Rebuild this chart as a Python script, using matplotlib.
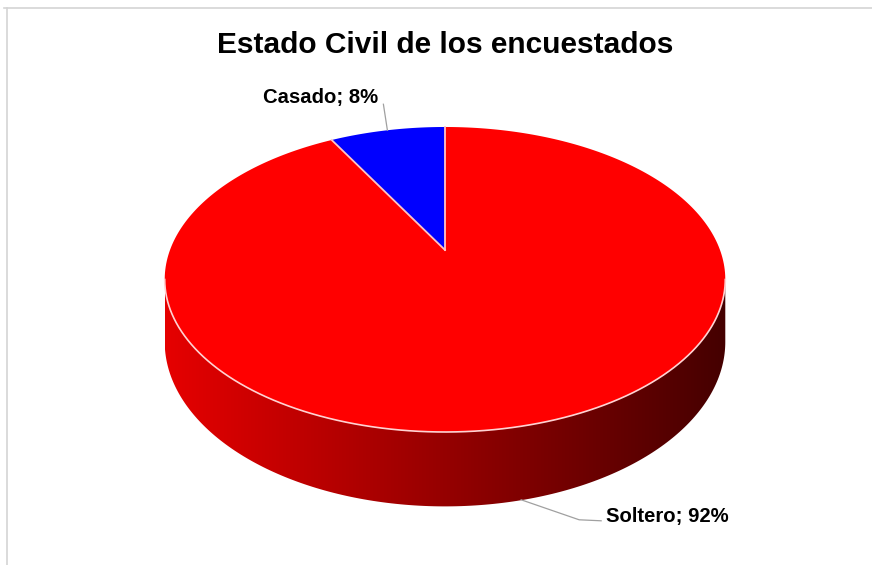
import numpy as np
import matplotlib
matplotlib.use('Agg')
import matplotlib.pyplot as plt
from matplotlib.patches import Polygon
from matplotlib.colors import to_rgb

# Datos del grafico
categorias = ['Soltero', 'Casado']
porcentajes = [92, 8]
colores = ['#ff0000', '#0000ff']

titulo = 'Estado Civil de los encuestados'
fuente = ['Liberation Sans', 'DejaVu Sans']

# Geometria del pastel 3D (en pixeles de la figura)
CX, CY = 445, 250       # centro del disco proyectado
A, B = 275, 146.8       # semiejes
K = 0.1934              # factor de perspectiva
GROSOR = 60             # altura del cilindro


def proyectar(theta, baja=0.0):
    x = np.cos(theta)
    z = np.sin(theta)
    w = 1 + K * z
    return CX + A * x / w, CY - B * z / w + baja / w


fig = plt.figure(figsize=(8.72, 5.65), dpi=100)
ax = fig.add_axes([0, 0, 1, 1])
ax.set_xlim(0, 872)
ax.set_ylim(565, 0)
ax.axis('off')

# Marco del area del grafico
ax.plot([4, 872], [8, 8], color='#d4d4d4', lw=1.2)
ax.plot([7, 7], [8, 565], color='#d4d4d4', lw=1.2)

# Angulos de cada porcion: empieza a las 12 y gira en sentido horario
inicio = np.pi / 2
rangos = []
for p in porcentajes:
    fin = inicio - 2 * np.pi * p / 100
    rangos.append((inicio, fin))
    inicio = fin

# Parte frontal visible del costado
t_izq = np.pi + np.arcsin(K)
t_der = 2 * np.pi - np.arcsin(K)

for (a0, a1), color in zip(rangos, colores):
    lo, hi = sorted((a0, a1))
    for desplaz in (0, 2 * np.pi, -2 * np.pi):
        s = max(lo + desplaz, t_izq)
        e = min(hi + desplaz, t_der)
        if e <= s:
            continue
        ts = np.linspace(s, e, 200)
        xs, ys = proyectar(ts)
        xb, yb = proyectar(ts[::-1], GROSOR)
        costado = Polygon(np.column_stack([np.r_[xs, xb], np.r_[ys, yb]]),
                          closed=True, facecolor='none', edgecolor='none')
        ax.add_patch(costado)
        # degradado de claro (izquierda) a oscuro (derecha)
        base = np.array(to_rgb(color))
        grad = np.linspace(0.9, 0.27, 256)
        img = base[None, None, :] * grad[None, :, None]
        im = ax.imshow(img, extent=(CX - A * 1.02, CX + A * 1.02,
                                    CY + B * 1.3 + GROSOR * 1.3, CY),
                       aspect='auto', interpolation='bicubic', zorder=1)
        im.set_clip_path(costado)

# Cara superior
for (a0, a1), color in zip(rangos, colores):
    ts = np.linspace(a0, a1, 300)
    xs, ys = proyectar(ts)
    ax.fill(np.r_[CX, xs], np.r_[CY, ys], color=color, lw=0, zorder=2)

# Bordes claros entre porciones y en el frente
for a0, _ in rangos:
    xe, ye = proyectar(a0)
    ax.plot([CX, xe], [CY, ye], color='#ffc4c4', lw=1.3, zorder=3)
tf = np.linspace(t_izq, t_der, 300)
xf, yf = proyectar(tf)
ax.plot(xf, yf, color='#ffd2d2', lw=1.2, zorder=3)

# Etiquetas con lineas guia
medio = [(a0 + a1) / 2 for a0, a1 in rangos]

xs, ys = proyectar(medio[1])
ax.plot([xs, xs - 4], [ys, ys - 26], color='#a0a0a0', lw=0.9, zorder=3)
ax.text(xs - 9, ys - 33, f'{categorias[1]}; {porcentajes[1]}%', ha='right',
        va='center', fontsize=14.6, fontweight='bold', family=fuente)

xs, ys = proyectar(medio[0], GROSOR)
ax.plot([xs - 8, xs + 50, xs + 72], [ys + 1, ys + 21, ys + 22],
        color='#a0a0a0', lw=0.9, zorder=3)
ax.text(xs + 77, ys + 18, f'{categorias[0]}; {porcentajes[0]}%', ha='left',
        va='center', fontsize=14.6, fontweight='bold', family=fuente)

ax.text(445, 45, titulo, ha='center', va='center', fontsize=21.5,
        fontweight='bold', family=fuente)

fig.savefig('out.png', dpi=100)
